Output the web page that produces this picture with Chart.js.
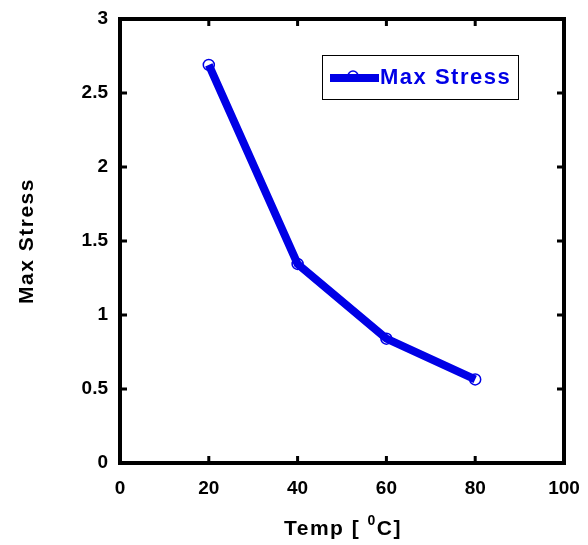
<!DOCTYPE html>
<html>
<head>
<meta charset="utf-8">
<script src="https://cdn.jsdelivr.net/npm/chart.js@4.4.0/dist/chart.umd.min.js"></script>
<style>
  html, body { margin: 0; padding: 0; background: #fff; }
  #wrap { width: 588px; height: 545px; position: relative; }
</style>
</head>
<body>
<div id="wrap"><canvas id="chart" width="588" height="545"></canvas></div>
<script>
const temps = [20, 40, 60, 80];
const maxStress = [2.69, 1.345, 0.84, 0.565];
const seriesLabel = 'Max Stress';
const xTitle = 'Temp [ ';
const xTitleSup = '0';
const xTitleEnd = 'C]';
const yTitle = 'Max Stress';

const FAMILY = '"Liberation Sans", Arial, sans-serif';
const BLUE = '#0000e6';

// frame, inward ticks, axis titles and legend box
const framePlugin = {
  id: 'frame',
  afterDraw(chart) {
    const ctx = chart.ctx;
    const a = chart.chartArea;
    const xs = chart.scales.x, ys = chart.scales.y;
    ctx.save();
    ctx.strokeStyle = '#000';
    ctx.lineWidth = 4;
    ctx.strokeRect(a.left, a.top, a.right - a.left, a.bottom - a.top);

    ctx.lineWidth = 3;
    ctx.beginPath();
    xs.ticks.forEach(t => {
      const px = xs.getPixelForValue(t.value);
      ctx.moveTo(px, a.bottom); ctx.lineTo(px, a.bottom - 7);
      ctx.moveTo(px, a.top); ctx.lineTo(px, a.top + 7);
    });
    ys.ticks.forEach(t => {
      const py = ys.getPixelForValue(t.value);
      ctx.moveTo(a.left, py); ctx.lineTo(a.left + 7, py);
      ctx.moveTo(a.right, py); ctx.lineTo(a.right - 7, py);
    });
    ctx.stroke();

    // x title with superscript
    ctx.fillStyle = '#000';
    ctx.textBaseline = 'alphabetic';
    ctx.letterSpacing = '1.5px';
    const mainFont = 'bold 21px ' + FAMILY;
    const supFont = 'bold 14px ' + FAMILY;
    ctx.font = mainFont;
    const w1 = ctx.measureText(xTitle).width;
    const w3 = ctx.measureText(xTitleEnd).width;
    ctx.font = supFont;
    const w2 = ctx.measureText(xTitleSup).width;
    const cx = 343;
    let x0 = cx - (w1 + w2 + w3) / 2;
    const base = 535;
    ctx.textAlign = 'left';
    ctx.font = mainFont;
    ctx.fillText(xTitle, x0, base);
    ctx.font = supFont;
    ctx.fillText(xTitleSup, x0 + w1, base - 10);
    ctx.font = mainFont;
    ctx.fillText(xTitleEnd, x0 + w1 + w2, base);

    // y title
    ctx.save();
    ctx.translate(33, 241);
    ctx.rotate(-Math.PI / 2);
    ctx.textAlign = 'center';
    ctx.fillText(yTitle, 0, 0);
    ctx.restore();

    // legend
    const lx = 322, ly = 55, lw = 196, lh = 44;
    ctx.fillStyle = '#fff';
    ctx.fillRect(lx, ly, lw, lh);
    ctx.strokeStyle = '#000';
    ctx.lineWidth = 1;
    ctx.strokeRect(lx + 0.5, ly + 0.5, lw, lh);
    const my = 78;
    ctx.strokeStyle = BLUE;
    ctx.lineWidth = 8;
    ctx.beginPath();
    ctx.moveTo(330, my); ctx.lineTo(379, my);
    ctx.stroke();
    ctx.lineWidth = 1.5;
    ctx.beginPath();
    ctx.arc(353, 76, 5, 0, Math.PI * 2);
    ctx.stroke();
    ctx.fillStyle = BLUE;
    ctx.font = 'bold 22px ' + FAMILY;
    ctx.textAlign = 'left';
    ctx.textBaseline = 'middle';
    ctx.fillText(seriesLabel, 380, my);
    ctx.restore();
  }
};

const tickFont = { family: FAMILY, size: 19, weight: 'bold' };

new Chart(document.getElementById('chart'), {
  type: 'line',
  data: {
    datasets: [{
      label: seriesLabel,
      data: temps.map((t, i) => ({ x: t, y: maxStress[i] })),
      borderColor: BLUE,
      borderWidth: 8,
      pointRadius: 0,
      tension: 0,
      order: 1
    }, {
      label: seriesLabel + ' markers',
      data: temps.map((t, i) => ({ x: t, y: maxStress[i] })),
      showLine: false,
      pointRadius: 5.5,
      pointBorderWidth: 1.5,
      pointBorderColor: BLUE,
      pointBackgroundColor: '#ffffff',
      order: 2
    }]
  },
  options: {
    responsive: false,
    animation: false,
    layout: { padding: { top: 19, right: 24, left: 0, bottom: 0 } },
    plugins: { legend: { display: false }, tooltip: { enabled: false } },
    scales: {
      x: {
        type: 'linear',
        min: 0, max: 100,
        ticks: { stepSize: 20, color: '#000', font: tickFont, padding: 14, maxRotation: 0 },
        grid: { display: false, drawTicks: false },
        border: { display: false },
        afterFit(s) { s.height = 82; s.paddingLeft = 0; s.paddingRight = 0; }
      },
      y: {
        min: 0, max: 3,
        ticks: { stepSize: 0.5, color: '#000', font: tickFont, padding: 12, callback: v => String(v) },
        grid: { display: false, drawTicks: false },
        border: { display: false },
        afterFit(s) { s.width = 120; s.paddingTop = 0; s.paddingBottom = 0; }
      }
    }
  },
  plugins: [framePlugin]
});
</script>
</body>
</html>
